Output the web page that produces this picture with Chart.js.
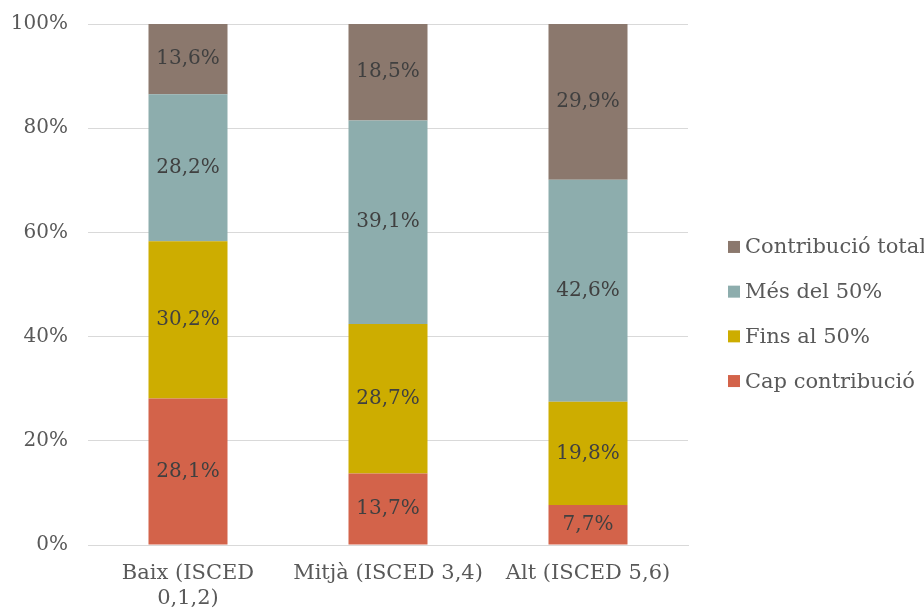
<!DOCTYPE html>
<html>
<head>
<meta charset="utf-8">
<script src="https://cdn.jsdelivr.net/npm/chart.js@4"></script>
<style>
  html, body { margin: 0; padding: 0; background: #fff; }
  #wrap { width: 924px; height: 610px; }
</style>
</head>
<body>
<div id="wrap"><canvas id="chart" width="924" height="610"></canvas></div>
<script>
const categories = [['Baix (ISCED', '0,1,2)'], 'Mitjà (ISCED 3,4)', 'Alt (ISCED 5,6)'];
const capContribucio = [28.1, 13.7, 7.7];
const finsAl50 = [30.2, 28.7, 19.8];
const mesDel50 = [28.2, 39.1, 42.6];
const contribucioTotal = [13.6, 18.5, 29.9];
const yTicks = [0, 20, 40, 60, 80, 100];

const fontFamily = "'DejaVu Serif', 'Liberation Serif', serif";
const textColor = '#595959';

// labels inside each segment, like Excel data labels
const barLabels = {
  id: 'barLabels',
  afterDatasetsDraw(chart) {
    const { ctx } = chart;
    ctx.save();
    ctx.font = `20px ${fontFamily}`;
    ctx.fillStyle = '#404040';
    ctx.textAlign = 'center';
    ctx.textBaseline = 'middle';
    chart.data.datasets.forEach((ds, i) => {
      chart.getDatasetMeta(i).data.forEach((bar, j) => {
        const y = (bar.y + bar.base) / 2;
        ctx.fillText(ds.data[j].toFixed(1).replace('.', ',') + '%', bar.x, y);
      });
    });
    ctx.restore();
  },
};

// legend on the right, Excel style (small square, tight gap to the text)
const sideLegend = {
  id: 'sideLegend',
  afterDraw(chart) {
    const { ctx, chartArea } = chart;
    const items = chart.data.datasets.slice().reverse();
    const step = 44.7;
    const x = chartArea.right + 40;
    let y = chart.height / 2 + 9 - step * (items.length - 1) / 2;
    ctx.save();
    ctx.font = `21px ${fontFamily}`;
    ctx.textBaseline = 'middle';
    items.forEach((ds) => {
      ctx.fillStyle = ds.backgroundColor;
      ctx.fillRect(x, y - 6, 12, 12);
      ctx.fillStyle = textColor;
      ctx.fillText(ds.label, x + 17, y + 1);
      y += step;
    });
    ctx.restore();
  },
};

new Chart(document.getElementById('chart'), {
  type: 'bar',
  data: {
    labels: categories,
    datasets: [
      { label: 'Cap contribució', data: capContribucio, backgroundColor: '#D3634A' },
      { label: 'Fins al 50%', data: finsAl50, backgroundColor: '#CDAD00' },
      { label: 'Més del 50%', data: mesDel50, backgroundColor: '#8DADAD' },
      { label: 'Contribució total', data: contribucioTotal, backgroundColor: '#8B786D' },
    ],
  },
  options: {
    responsive: false,
    animation: false,
    barPercentage: 0.395,
    categoryPercentage: 1,
    layout: { padding: { top: 24, left: 8, right: 236, bottom: 0 } },
    plugins: {
      legend: { display: false },
      tooltip: { enabled: false },
    },
    scales: {
      x: {
        stacked: true,
        afterFit: (axis) => { axis.height = 65; axis.paddingLeft = 0; axis.paddingRight = 0; },
        grid: { display: false, drawTicks: false },
        border: { color: '#d9d9d9' },
        ticks: {
          color: textColor,
          padding: 16,
          maxRotation: 0,
          font: { family: fontFamily, size: 21 },
        },
      },
      y: {
        stacked: true,
        min: 0,
        max: 100,
        afterBuildTicks: (axis) => { axis.ticks = yTicks.map((v) => ({ value: v })); },
        afterFit: (axis) => { axis.width = 80; axis.paddingTop = 0; axis.paddingBottom = 0; },
        grid: { color: '#d9d9d9', drawTicks: false },
        border: { display: false },
        ticks: {
          color: textColor,
          padding: 20,
          font: { family: fontFamily, size: 20 },
          callback: (v) => v + '%',
        },
      },
    },
  },
  plugins: [barLabels, sideLegend],
});
</script>
</body>
</html>
